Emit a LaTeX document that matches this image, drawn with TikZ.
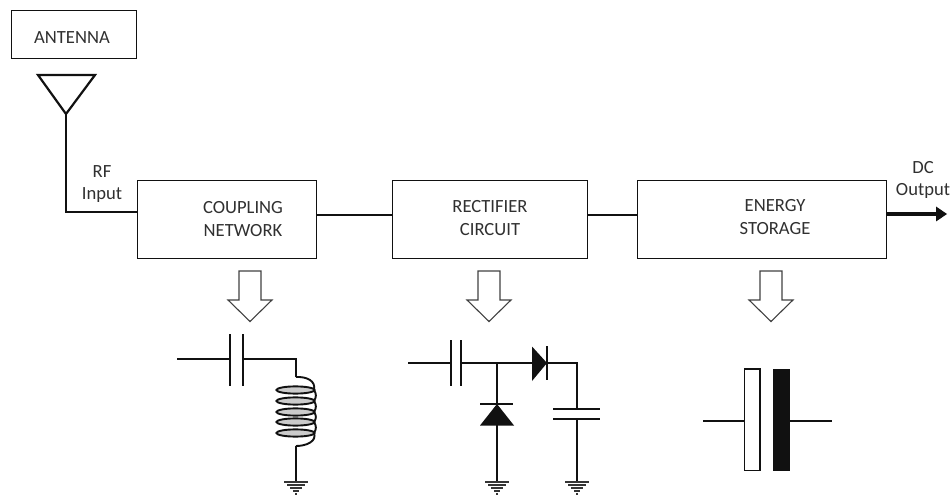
\documentclass[tikz,border=0pt]{standalone}
\usepackage{fontspec}
\setmainfont{Carlito}
\definecolor{ink}{HTML}{111111}
\definecolor{txt}{HTML}{303030}
\tikzset{
  x=1pt,y=-1pt,
  every path/.style={line join=miter},
  boxn/.style={draw=ink,line width=1.3pt,fill=white,inner sep=0pt,anchor=north west},
  lbl/.style={text=txt,align=center,font=\fontsize{18.6}{22.5}\selectfont,inner sep=0pt},
  wire/.style={draw=ink,line width=2pt},
  bus/.style={draw=ink,line width=2.7pt},
  plate/.style={draw=ink,line width=2.1pt},
  coil/.style={draw=ink,line width=1.9pt},
  hollow/.style={draw=ink!80,line width=1.1pt,fill=white},
  gnd/.pic={
    \draw[draw=ink!85,line width=1.7pt] (-12,0)--(12,0) (-9,3)--(9,3) (-6,6)--(6,6) (-3,9)--(3,9) (-1,12)--(1,12);
  },
}
\begin{document}
\begin{tikzpicture}
\useasboundingbox (0,0) rectangle (951,497);
% blocks
\node[boxn,minimum width=125pt,minimum height=48pt] (ant) at (11,10) {};
\node[lbl] (antt) at (72,37.5) {ANTENNA};
\node[boxn,minimum width=179pt,minimum height=78pt] (coup) at (137,180) {};
\node[lbl] (coupt) at (243,219) {COUPLING\\NETWORK};
\node[boxn,minimum width=195pt,minimum height=78pt] (rect) at (392,180) {};
\node[lbl] (rectt) at (490,218) {RECTIFIER\\CIRCUIT};
\node[boxn,minimum width=249pt,minimum height=78pt] (stor) at (637,180) {};
\node[lbl] (stort) at (775,217) {ENERGY\\STORAGE};
\node[lbl] (rf) at (102,184) {RF\\Input};
\node[lbl] (dc) at (923,180) {DC\\Output};
% antenna + bus connectors
\coordinate (atip) at (66,114);
\coordinate (acorner) at (66,212);
\coordinate (cin) at (137,212);
\coordinate (cout) at (316,215);
\coordinate (rin) at (392,215);
\coordinate (rout) at (587,215);
\coordinate (sin) at (637,215);
\coordinate (sout) at (886,214);
\coordinate (dcend) at (947,214);
\draw[draw=ink,line width=2.2pt] (38,75) -- (95,75) -- (atip) -- cycle;
\draw[bus] (atip) -- (acorner) -- (cin);
\draw[bus] (cout) -- (rin);
\draw[bus] (rout) -- (sin);
\draw[draw=ink,line width=3.4pt] (sout) -- (940,214);
\fill[ink] (dcend) -- (936,206.5) -- (936,221.5) -- cycle;
% hollow arrows
\foreach \c/\nm in {250/a,489/b,771/c}{
  \draw[hollow] (\c-11,271) -- (\c+11,271) -- (\c+11,300) -- (\c+22,300) -- (\c,321.5) -- (\c-22,300) -- (\c-11,300) -- cycle;
}
% coupling circuit
\coordinate (c1a) at (177,359);
\coordinate (c1b) at (230,359);
\coordinate (c1c) at (243,359);
\coordinate (c1d) at (296,359);
\coordinate (c1e) at (296,377);
\coordinate (c1f) at (296,446);
\coordinate (c1g) at (296,482);
\draw[wire] (c1a) -- (c1b);
\draw[plate] (230,334) -- (230,386);
\draw[plate] (243,334) -- (243,386);
\draw[wire] (c1c) -- (c1d) -- (c1e);
\foreach \y in {390,401,412,422,433}{
  \draw[coil,fill=ink!22] (295.5,\y) ellipse [x radius=19,y radius=3.6];
}
\foreach \y/\z in {390/401,401/412,412/422,422/433}{
  \draw[coil] (314,\y) .. controls (316.5,\y+3.5) and (316.5,\z-3.5) .. (314,\z);
}
\draw[coil] (c1e) .. controls (307,376.5) and (316,381) .. (314,390);
\draw[coil] (314,433) .. controls (317,441) and (307,446) .. (c1f);
\draw[wire] (c1f) -- (c1g);
\pic at (c1g) {gnd};
% rectifier circuit
\coordinate (r1a) at (408,363);
\coordinate (r1b) at (451,363);
\coordinate (r1c) at (461,363);
\coordinate (r1j) at (497,363);
\coordinate (r1k) at (577,363);
\coordinate (r1l) at (577,409);
\coordinate (r1m) at (577,419);
\coordinate (r1n) at (577,482);
\coordinate (r1o) at (497,404);
\coordinate (r1p) at (497,425);
\coordinate (r1q) at (497,482);
\draw[wire] (r1a) -- (r1b);
\draw[plate] (451,340) -- (451,386);
\draw[plate] (461,340) -- (461,386);
\draw[wire] (r1c) -- (r1k) -- (r1l);
\fill[ink] (532,346.5) -- (532,381) -- (547,363) -- cycle;
\draw[plate] (547,346) -- (547,380);
\draw[plate] (553,409) -- (600,409);
\draw[plate] (553,419) -- (600,419);
\draw[wire] (r1m) -- (r1n);
\draw[wire] (r1j) -- (r1o);
\draw[plate] (480,404) -- (513,404);
\fill[ink] (r1o) -- (514,425.5) -- (480,425.5) -- cycle;
\draw[wire] (r1p) -- (r1q);
\pic at (r1q) {gnd};
\pic at (r1n) {gnd};
% storage capacitor
\coordinate (s1a) at (703,421);
\coordinate (s1b) at (744,421);
\coordinate (s1c) at (790,421);
\coordinate (s1d) at (832,421);
\draw[wire] (s1a) -- (s1b);
\draw[wire] (s1c) -- (s1d);
\draw[draw=ink,line width=1.5pt,fill=white] (744.5,369) rectangle (760,470.5);
\fill[ink] (773,368.5) rectangle (790,471);
\end{tikzpicture}
\end{document}
